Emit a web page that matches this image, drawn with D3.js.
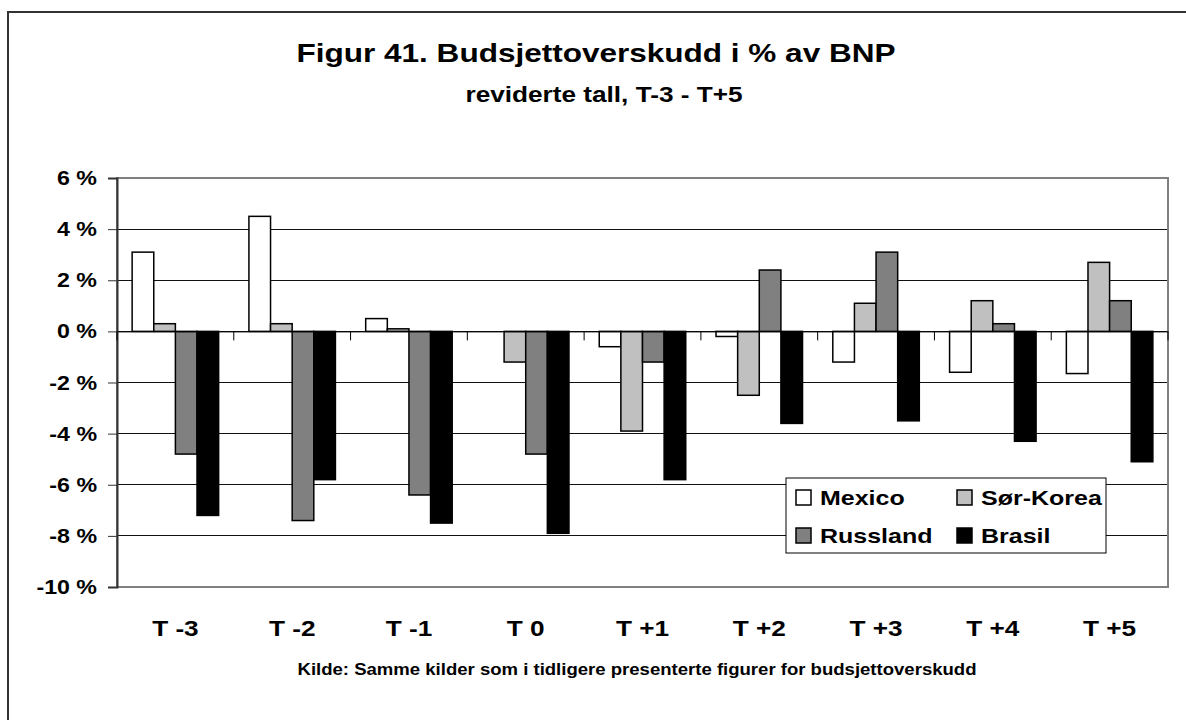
<!DOCTYPE html>
<html>
<head>
<meta charset="utf-8">
<script src="https://cdn.jsdelivr.net/npm/d3@7"></script>
<style>
  html, body { margin: 0; padding: 0; background: #fff; }
  svg { display: block; }
  text { font-family: "Liberation Sans", Arial, sans-serif; font-weight: bold; fill: #000; }
</style>
</head>
<body>
<svg id="chart" width="1186" height="720"></svg>
<script>
// Budget surplus as % of GDP, years relative to crisis year T
const categories = ["T -3", "T -2", "T -1", "T  0", "T +1", "T +2", "T +3", "T +4", "T +5"];
const seriesNames = ["Mexico", "Sør-Korea", "Russland", "Brasil"];
const mexico   = [3.1, 4.5, 0.5, 0.0, -0.6, -0.2, -1.2, -1.6, -1.65];
const sorKorea = [0.3, 0.3, 0.1, -1.2, -3.9, -2.5, 1.1, 1.2, 2.7];
const russland = [-4.8, -7.4, -6.4, -4.8, -1.2, 2.4, 3.1, 0.3, 1.2];
const brasil   = [-7.2, -5.8, -7.5, -7.9, -5.8, -3.6, -3.5, -4.3, -5.1];
const yTicks = [6, 4, 2, 0, -2, -4, -6, -8, -10];

const seriesValues = [mexico, sorKorea, russland, brasil];
const fills = ["#ffffff", "#c0c0c0", "#808080", "#000000"];

const svg = d3.select("#chart");
const plot = { left: 117, right: 1168, top: 178, bottom: 587 };
const SX = 1.19; // horizontal text stretch

function label(g, x, y, str, size, anchor) {
  return g.append("text")
    .attr("transform", `translate(${x},${y}) scale(${SX},1)`)
    .attr("text-anchor", anchor || "middle")
    .style("font-size", size + "px")
    .text(str);
}

// outer frame
svg.append("rect")
  .attr("x", 8).attr("y", 12)
  .attr("width", 1200).attr("height", 740)
  .attr("fill", "#fff").attr("stroke", "#333").attr("stroke-width", 2);

// titles
label(svg, 596, 62, "Figur 41. Budsjettoverskudd i % av BNP", 26.5);
label(svg, 604, 102, "reviderte tall, T-3 - T+5", 22);

const x = d3.scaleBand().domain(categories).range([plot.left, plot.right]).paddingInner(0).paddingOuter(0);
const y = d3.scaleLinear().domain([-10, 6]).range([plot.bottom, plot.top]);
const bw = x.bandwidth() / 5.4;
const xs = d3.scaleBand().domain(seriesNames).range([0.7 * bw, 4.7 * bw]).padding(0);

// gridlines
svg.append("g").selectAll("line")
  .data(yTicks.filter(t => t !== 6 && t !== -10))
  .join("line")
  .attr("x1", plot.left).attr("x2", plot.right)
  .attr("y1", d => y(d)).attr("y2", d => y(d))
  .attr("stroke", "#111").attr("stroke-width", 1).attr("shape-rendering", "crispEdges");

// plot border
svg.append("rect")
  .attr("x", plot.left).attr("y", plot.top)
  .attr("width", plot.right - plot.left).attr("height", plot.bottom - plot.top)
  .attr("fill", "none").attr("stroke", "#808080").attr("stroke-width", 2);

// bars
const bars = [];
seriesValues.forEach((vals, si) => {
  vals.forEach((v, ci) => bars.push({ s: seriesNames[si], si, c: categories[ci], v }));
});
svg.append("g").selectAll("rect")
  .data(bars.filter(d => d.v !== 0))
  .join("rect")
  .attr("x", d => x(d.c) + xs(d.s))
  .attr("width", xs.bandwidth())
  .attr("y", d => y(Math.max(0, d.v)))
  .attr("height", d => Math.abs(y(d.v) - y(0)))
  .attr("fill", d => fills[d.si])
  .attr("stroke", "#000").attr("stroke-width", 1.5);

// y axis
const yAxis = d3.axisLeft(y).tickValues(yTicks).tickSize(9).tickFormat("");
const gy = svg.append("g").attr("transform", `translate(${plot.left},0)`).call(yAxis);
gy.select(".domain").attr("stroke", "#333").attr("stroke-width", 2);
gy.selectAll(".tick line").attr("stroke", "#333").attr("stroke-width", 1);
yTicks.forEach(t => label(svg, 97, y(t) + 7, t + " %", 19.5, "end"));

// zero line with category ticks
const xAxis = d3.axisBottom(x).tickSize(0).tickFormat("");
const gx = svg.append("g").attr("transform", `translate(0,${y(0)})`).call(xAxis);
gx.select(".domain").attr("stroke", "#000").attr("stroke-width", 1);
gx.selectAll(".tick").remove();
gx.selectAll("line.bound")
  .data(categories.map(c => x(c)).concat([plot.right]))
  .join("line").attr("class", "bound")
  .attr("x1", d => d).attr("x2", d => d)
  .attr("y1", 0).attr("y2", 9)
  .attr("stroke", "#000").attr("stroke-width", 1);

// category labels
categories.forEach(c => label(svg, x(c) + x.bandwidth() / 2, 636, c, 22));

// source note
label(svg, 637, 675, "Kilde: Samme kilder som i tidligere presenterte figurer for budsjettoverskudd", 15.6);

// legend
const lg = svg.append("g");
lg.append("rect").attr("x", 786).attr("y", 478).attr("width", 320).attr("height", 75)
  .attr("fill", "#fff").attr("stroke", "#000").attr("stroke-width", 1);
const legPos = [[796, 490], [957, 490], [796, 528], [957, 528]];
seriesNames.forEach((n, i) => {
  const [lx, ly] = legPos[i];
  lg.append("rect").attr("x", lx).attr("y", ly).attr("width", 15).attr("height", 15)
    .attr("fill", fills[i]).attr("stroke", "#000").attr("stroke-width", 1.5);
  label(lg, lx + 24, ly + 15, n, 21, "start");
});
</script>
</body>
</html>
